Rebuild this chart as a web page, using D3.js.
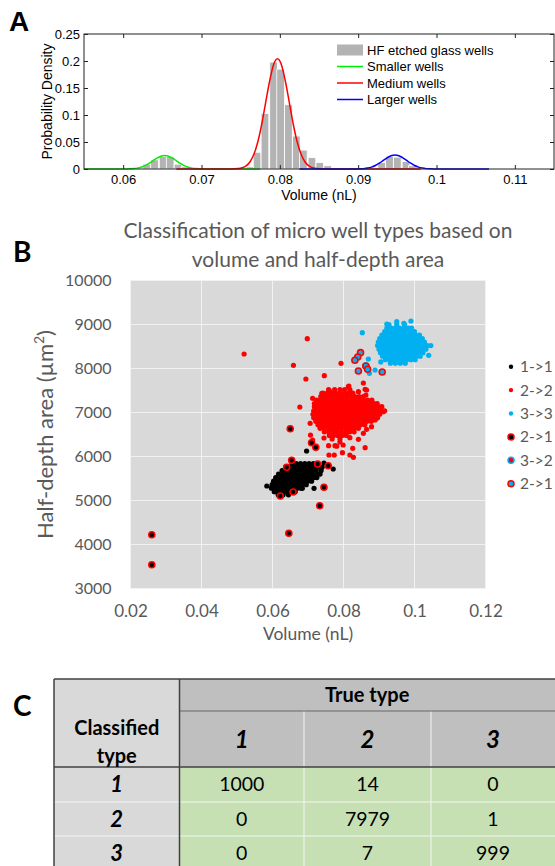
<!DOCTYPE html>
<html><head><meta charset="utf-8">
<script src="https://cdn.jsdelivr.net/npm/d3@7"></script>
<style>body{margin:0;background:#fff}svg{display:block}</style>
</head><body>
<svg id="c" width="555" height="866"></svg>
<script>
// ---------------- Panel A data ----------------
const xTicksA = [0.06, 0.07, 0.08, 0.09, 0.1, 0.11];
const yTicksA = [0, 0.05, 0.1, 0.15, 0.2, 0.25];
const binWidth = 0.00098;
const histCenters = [0.0630,0.0640,0.0651,0.0660,0.0670,0.0679,
  0.0762,0.0771,0.0781,0.0792,0.0801,0.0811,0.0821,0.0830,0.0841,0.0851,0.0861,
  0.0930,0.0940,0.0950,0.0961,0.0969];
const histDensity = [0.009,0.017,0.023,0.023,0.009,0.004,
  0.004,0.031,0.103,0.198,0.185,0.119,0.061,0.035,0.021,0.012,0.006,
  0.012,0.023,0.022,0.014,0.006];
const smallCurve = [[0.0550,0],[0.0600,0],[0.0603,0.0001],[0.0608,0.0003],[0.0613,0.0007],[0.0618,0.0016],[0.0623,0.0034],[0.0628,0.0062],[0.0633,0.0103],[0.0638,0.0152],[0.0643,0.0200],[0.0648,0.0237],[0.0653,0.0250],[0.0658,0.0237],[0.0663,0.0200],[0.0668,0.0152],[0.0673,0.0103],[0.0678,0.0062],[0.0683,0.0034],[0.0688,0.0016],[0.0693,0.0007],[0.0698,0.0003],[0.0703,0.0001],[0.0710,0],[0.0775,0]];
const mediumCurve = [[0.0668,0],[0.0737,0],[0.0747,0.0008],[0.0752,0.0023],[0.0757,0.0058],[0.0762,0.0134],[0.0767,0.0276],[0.0772,0.0509],[0.0777,0.0838],[0.0782,0.1240],[0.0787,0.1630],[0.0792,0.1930],[0.0797,0.2040],[0.0802,0.1930],[0.0807,0.1630],[0.0812,0.1240],[0.0817,0.0838],[0.0822,0.0509],[0.0827,0.0276],[0.0832,0.0134],[0.0837,0.0058],[0.0842,0.0023],[0.0847,0.0008],[0.0857,0],[0.0980,0]];
const largeCurve = [[0.0825,0],[0.0887,0],[0.0897,0.0001],[0.0902,0.0003],[0.0907,0.0007],[0.0912,0.0017],[0.0917,0.0035],[0.0922,0.0065],[0.0927,0.0107],[0.0932,0.0158],[0.0937,0.0208],[0.0942,0.0246],[0.0947,0.0260],[0.0952,0.0246],[0.0957,0.0208],[0.0962,0.0158],[0.0967,0.0107],[0.0972,0.0065],[0.0977,0.0035],[0.0982,0.0017],[0.0987,0.0007],[0.0992,0.0003],[0.0997,0.0001],[0.1007,0],[0.1067,0]];
const legendLabelsA = ["HF etched glass wells","Smaller wells","Medium wells","Larger wells"];

// ---------------- Panel B data ----------------
const xTicksB = [0.02,0.04,0.06,0.08,0.1,0.12];
const yTicksB = [3000,4000,5000,6000,7000,8000,9000,10000];
const legendLabelsB = ["1->1","2->2","3->3","2->1","3->2","2->1"];
// dense cores: rows of [area, [volumes...]]
const blackRows = [
 [5840,[0.0655,0.0667,0.0679,0.0691,0.0703,0.0715,0.0727]],
 [5760,[0.0637,0.0649,0.0661,0.0673,0.0685,0.0697,0.0709,0.0721,0.0733]],
 [5680,[0.0627,0.0639,0.0651,0.0663,0.0675,0.0687,0.0699,0.0711,0.0723,0.0737]],
 [5600,[0.0617,0.0629,0.0641,0.0653,0.0665,0.0677,0.0689,0.0701,0.0713,0.0725,0.0734]],
 [5520,[0.0609,0.0621,0.0633,0.0645,0.0657,0.0669,0.0681,0.0693,0.0705,0.0717,0.0725]],
 [5440,[0.0603,0.0615,0.0627,0.0639,0.0651,0.0663,0.0675,0.0687,0.0699,0.0710]],
 [5360,[0.0599,0.0611,0.0623,0.0635,0.0647,0.0659,0.0671,0.0683,0.0695]],
 [5280,[0.0597,0.0609,0.0621,0.0633,0.0645,0.0657,0.0669,0.0680]],
 [5200,[0.0605,0.0617,0.0629,0.0641,0.0653,0.0664]],
 [5130,[0.0616,0.0630,0.0645]]
];
const blackExtra = [[0.0696,6125],[0.0584,5329],[0.0717,5277],[0.0684,5277],[0.0771,5716],[0.0598,5300],[0.0607,5222],[0.0745,5850],[0.0740,5760]];
const redRows = [
 [7520,[0.0758,0.0775,0.0790,0.0803,0.0818]],
 [7440,[0.0742,0.0754,0.0766,0.0778,0.0790,0.0802,0.0814,0.0826]],
 [7360,[0.0736,0.0748,0.0760,0.0772,0.0784,0.0796,0.0808,0.0820,0.0832,0.0844,0.0856]],
 [7280,[0.0724,0.0736,0.0748,0.0760,0.0772,0.0784,0.0796,0.0808,0.0820,0.0832,0.0844,0.0856,0.0868,0.0880]],
 [7200,[0.0718,0.0730,0.0742,0.0754,0.0766,0.0778,0.0790,0.0802,0.0814,0.0826,0.0838,0.0850,0.0862,0.0874,0.0886,0.0895]],
 [7120,[0.0722,0.0734,0.0746,0.0758,0.0770,0.0782,0.0794,0.0806,0.0818,0.0830,0.0842,0.0854,0.0866,0.0878,0.0890,0.0902]],
 [7040,[0.0716,0.0728,0.0740,0.0752,0.0764,0.0776,0.0788,0.0800,0.0812,0.0824,0.0836,0.0848,0.0860,0.0872,0.0884,0.0896,0.0908,0.0916]],
 [6960,[0.0714,0.0722,0.0734,0.0746,0.0758,0.0770,0.0782,0.0794,0.0806,0.0818,0.0830,0.0842,0.0854,0.0866,0.0878,0.0890,0.0902]],
 [6880,[0.0716,0.0728,0.0740,0.0752,0.0764,0.0776,0.0788,0.0800,0.0812,0.0824,0.0836,0.0848,0.0860,0.0872,0.0884,0.0896]],
 [6800,[0.0722,0.0734,0.0746,0.0758,0.0770,0.0782,0.0794,0.0806,0.0818,0.0830,0.0842,0.0854,0.0866,0.0878]],
 [6720,[0.0728,0.0740,0.0752,0.0764,0.0776,0.0788,0.0800,0.0812,0.0824,0.0836,0.0848,0.0860]],
 [6640,[0.0734,0.0746,0.0758,0.0770,0.0782,0.0794,0.0806,0.0818,0.0830,0.0842]],
 [6560,[0.0746,0.0758,0.0770,0.0782,0.0794,0.0806,0.0818,0.0830]],
 [6480,[0.0760,0.0772,0.0784,0.0796,0.0808]],
 [6400,[0.0768,0.0790]]
];
const redExtra = [[0.0520,8330],[0.0698,8678],[0.0659,8073],[0.0694,7761],[0.0746,7836],[0.0793,8118],[0.0677,7125],
 [0.0861,7527],[0.0863,7398],[0.0814,7586],[0.0713,7322],[0.0718,7132],[0.0706,6754],[0.0707,6488],[0.0713,6374],
 [0.0758,6245],[0.0776,6245],[0.0799,6261],[0.0759,6034],[0.0774,6034],[0.0797,6087],[0.0818,6034],[0.0828,5981],
 [0.0826,6186],[0.0861,6200],[0.0865,6618],[0.0865,7511],[0.0842,7473],[0.0760,7496],[0.0739,7436],[0.0815,7602],
 [0.0875,7132],[0.0908,7132],[0.0912,7018],[0.0889,6829],[0.0879,6677],[0.0856,6527],[0.0856,7670],[0.0781,6234],
 [0.0818,6427],[0.0842,6390],[0.0790,6330],[0.0745,6420]];
const blueRows = [
 [9000,[0.0928,0.0950,0.0972]],
 [8920,[0.0922,0.0934,0.0946,0.0958,0.0970,0.0982,0.0992]],
 [8840,[0.0916,0.0928,0.0940,0.0952,0.0964,0.0976,0.0988,0.1000]],
 [8760,[0.0908,0.0920,0.0932,0.0944,0.0956,0.0968,0.0980,0.0992,0.1004,0.1014]],
 [8680,[0.0902,0.0914,0.0926,0.0938,0.0950,0.0962,0.0974,0.0986,0.0998,0.1010,0.1022]],
 [8600,[0.0898,0.0908,0.0920,0.0932,0.0944,0.0956,0.0968,0.0980,0.0992,0.1004,0.1016,0.1028]],
 [8520,[0.0896,0.0908,0.0920,0.0932,0.0944,0.0956,0.0968,0.0980,0.0992,0.1004,0.1016,0.1028,0.1036]],
 [8440,[0.0900,0.0912,0.0924,0.0936,0.0948,0.0960,0.0972,0.0984,0.0996,0.1008,0.1020,0.1032]],
 [8360,[0.0904,0.0916,0.0928,0.0940,0.0952,0.0964,0.0976,0.0988,0.1000,0.1012,0.1024]],
 [8280,[0.0910,0.0922,0.0934,0.0946,0.0958,0.0970,0.0982,0.0994,0.1006,0.1016]],
 [8200,[0.0918,0.0930,0.0942,0.0954,0.0966,0.0978,0.0990,0.1002]],
 [8120,[0.0932,0.0946,0.0960,0.0974]]
];
const blueExtra = [[0.0853,8814],[0.0870,8216],[0.0873,7890],[0.0889,7966],[0.0922,9011],[0.0950,9064],[0.0970,9027],[0.1046,8520],[0.0990,9080],[0.1040,8300],[0.0905,8150]];
const misBlackRed = [[0.0650,6632],[0.0710,6313],[0.0722,6208],[0.0654,5913],[0.0640,5754],[0.0727,5829],[0.0757,5791],[0.0745,5300],[0.0658,5193],[0.0622,5102],[0.0733,4882],[0.0646,4254],[0.0260,4222],[0.0260,3540]];
const misRedBlue = [[0.0863,8057]];
const misBlueRed = [[0.0848,8360],[0.0840,8261],[0.0832,8186],[0.0863,8057],[0.0868,7982],[0.0842,7943],[0.0909,7920]];

// ---------------- Panel C data ----------------
const trueTypes = ["1","2","3"];
const classifiedTypes = ["1","2","3"];
const confusion = [[1000,14,0],[0,7979,1],[0,7,999]];

// ================= drawing =================
const svg = d3.select("#c");
svg.append("rect").attr("width",555).attr("height",866).attr("fill","#fff");

// ---------- Panel A ----------
const A = svg.append("g").attr("font-family","'Liberation Sans', Arial, sans-serif");
const xA = d3.scaleLinear().domain([0.055,0.115]).range([84,554]);
const yA = d3.scaleLinear().domain([0,0.25]).range([169,34]);
A.append("text").attr("x",9).attr("y",31).attr("font-size",28).attr("font-weight","bold").text("A");

A.append("g").selectAll("rect").data(histCenters).join("rect")
  .attr("x",(d)=>xA(d-binWidth/2)).attr("width",(d)=>xA(d+binWidth/2)-xA(d-binWidth/2))
  .attr("y",(d,i)=>yA(histDensity[i])).attr("height",(d,i)=>yA(0)-yA(histDensity[i]))
  .attr("fill","#b3b3b3").attr("stroke","#fff").attr("stroke-width",0.8);

const lineA = d3.line().x(d=>xA(d[0])).y(d=>yA(d[1])).curve(d3.curveMonotoneX);
const curvesA = [[smallCurve,"#00ee00"],[mediumCurve,"#ff0000"],[largeCurve,"#0000ff"]];
curvesA.forEach(([c,col])=>{
  A.append("path").attr("d",lineA(c)).attr("fill","none").attr("stroke",col).attr("stroke-width",1.5);
});

const axB = A.append("g").attr("transform",`translate(0,${yA(0)})`)
  .call(d3.axisBottom(xA).tickValues(xTicksA).tickSizeInner(-4).tickSizeOuter(0).tickPadding(6).tickFormat(d3.format("")));
const axT = A.append("g").attr("transform",`translate(0,${yA(0.25)})`)
  .call(d3.axisTop(xA).tickValues(xTicksA).tickSizeInner(-4).tickSizeOuter(0).tickFormat(""));
const axL = A.append("g").attr("transform",`translate(${xA(0.055)},0)`)
  .call(d3.axisLeft(yA).tickValues(yTicksA).tickSizeInner(-4).tickSizeOuter(0).tickPadding(4).tickFormat(d3.format("")));
const axR = A.append("g").attr("transform",`translate(${xA(0.115)},0)`)
  .call(d3.axisRight(yA).tickValues(yTicksA).tickSizeInner(-4).tickSizeOuter(0).tickFormat(""));
[axB,axT,axL,axR].forEach(g=>{
  g.select(".domain").remove();
  g.selectAll("text").attr("font-size",13).attr("fill","#000").attr("font-family","'Liberation Sans', Arial, sans-serif");
  g.selectAll("line").attr("stroke","#222");
});
A.append("rect").attr("x",xA(0.055)).attr("y",yA(0.25)).attr("width",xA(0.115)-xA(0.055)).attr("height",yA(0)-yA(0.25))
  .attr("fill","none").attr("stroke","#222").attr("stroke-width",1);
A.append("text").attr("x",(xA(0.055)+xA(0.115))/2).attr("y",200).attr("text-anchor","middle").attr("font-size",14).text("Volume (nL)");
A.append("text").attr("transform",`translate(52,${(yA(0)+yA(0.25))/2}) rotate(-90)`).attr("text-anchor","middle").attr("font-size",14).text("Probability Density");

// legend A
const legA = A.append("g").attr("font-size",13);
const legColors = ["#b3b3b3","#00ee00","#ff0000","#0000ff"];
legendLabelsA.forEach((t,i)=>{
  const cy = 50 + i*16.5;
  if(i===0) legA.append("rect").attr("x",337).attr("y",cy-5.5).attr("width",26).attr("height",11).attr("fill",legColors[0]);
  else legA.append("line").attr("x1",337).attr("x2",363).attr("y1",cy).attr("y2",cy).attr("stroke",legColors[i]).attr("stroke-width",1.5);
  legA.append("text").attr("x",367).attr("y",cy+4.5).text(t);
});

// ---------- Panel B ----------
const B = svg.append("g").attr("font-family","Lato, 'Open Sans', sans-serif");
const xB = d3.scaleLinear().domain([0.02,0.12]).range([130.5,485.5]);
const yB = d3.scaleLinear().domain([3000,10000]).range([588.5,280.5]);
B.append("text").attr("x",13).attr("y",262).attr("font-size",28).attr("font-weight","bold").attr("fill","#000").text("B");
const title = B.append("text").attr("text-anchor","middle").attr("font-size",21).attr("fill","#595959");
title.append("tspan").attr("x",318).attr("y",238).text("Classification of micro well types based on");
title.append("tspan").attr("x",318).attr("y",267).text("volume and half-depth area");

B.append("rect").attr("x",xB(0.02)).attr("y",yB(10000)).attr("width",xB(0.12)-xB(0.02)).attr("height",yB(3000)-yB(10000)).attr("fill","#d9d9d9");
B.append("g").selectAll("line.gx").data(xTicksB).join("line")
  .attr("x1",d=>xB(d)).attr("x2",d=>xB(d)).attr("y1",yB(10000)).attr("y2",yB(3000)).attr("stroke","#f2f2f2").attr("stroke-width",1);
B.append("g").selectAll("line.gy").data(yTicksB).join("line")
  .attr("y1",d=>yB(d)).attr("y2",d=>yB(d)).attr("x1",xB(0.02)).attr("x2",xB(0.12)).attr("stroke","#f2f2f2").attr("stroke-width",1);

const bx = B.append("g").attr("transform",`translate(0,${yB(3000)})`)
  .call(d3.axisBottom(xB).tickValues(xTicksB).tickSize(0).tickPadding(16).tickFormat(d3.format("")));
const by = B.append("g").attr("transform",`translate(${xB(0.02)-19},0)`)
  .call(d3.axisLeft(yB).tickValues(yTicksB).tickSize(0).tickPadding(0).tickFormat(d3.format("d")));
bx.select(".domain").remove(); by.select(".domain").remove();
bx.selectAll("text").attr("font-size",17).attr("fill","#595959").attr("font-family","Lato, sans-serif");
by.selectAll("text").attr("font-size",16).attr("fill","#595959").attr("font-family","Lato, sans-serif");
B.append("text").attr("x",(xB(0.02)+xB(0.12))/2).attr("y",640).attr("text-anchor","middle").attr("font-size",17.5).attr("fill","#595959").text("Volume (nL)");
const yl = B.append("text").attr("transform",`translate(53,${(yB(3000)+yB(10000))/2}) rotate(-90)`).attr("text-anchor","middle").attr("font-size",22).attr("fill","#595959");
yl.append("tspan").text("Half-depth area (µm");
yl.append("tspan").attr("font-size",14).attr("dy",-9).text("2");
yl.append("tspan").attr("dy",9).text(")");

const flat = rows => rows.flatMap(([a,vs])=>vs.map(v=>[v,a]));
const pts = B.append("g");
function dots(data, fill, r, stroke, sw){
  pts.append("g").selectAll("circle").data(data).join("circle")
    .attr("cx",d=>xB(d[0])).attr("cy",d=>yB(d[1])).attr("r",r)
    .attr("fill",fill).attr("stroke",stroke||"none").attr("stroke-width",sw||0);
}
dots(flat(blackRows).concat(blackExtra),"#000",2.6);
dots(flat(redRows).concat(redExtra),"#ff0000",2.6);
dots(flat(blueRows).concat(blueExtra),"#00b0f0",2.6);
dots(misBlackRed,"#000",3,"#ff0000",1.6);
dots(misRedBlue,"#ff0000",3,"#00b0f0",1.6);
dots(misBlueRed,"#00b0f0",3,"#ff0000",1.6);

// legend B
const legB = B.append("g");
const legStyles = [["#000",2.2,null],["#ff0000",2.2,null],["#00b0f0",2.2,null],["#000",3,"#ff0000"],["#ff0000",3,"#00b0f0"],["#00b0f0",3,"#ff0000"]];
legendLabelsB.forEach((t,i)=>{
  const cy = 366.7 + i*23.4;
  const [f,r,s] = legStyles[i];
  legB.append("circle").attr("cx",511).attr("cy",cy).attr("r",r).attr("fill",f).attr("stroke",s||"none").attr("stroke-width",s?1.5:0);
  legB.append("text").attr("x",520).attr("y",cy+5.5).attr("font-size",15.5).attr("fill","#595959").text(t);
});

// ---------- Panel C ----------
const C = svg.append("g").attr("font-family","Lato, 'Open Sans', sans-serif");
C.append("text").attr("x",13).attr("y",716).attr("font-size",28).attr("font-weight","bold").text("C");
const colX = [54,179.5,304,431,555];
const rowY = [679,711,767,802,836,870];
C.append("rect").attr("x",colX[0]).attr("y",rowY[0]).attr("width",colX[1]-colX[0]).attr("height",rowY[2]-rowY[0]).attr("fill","#d9d9d9");
C.append("rect").attr("x",colX[1]).attr("y",rowY[0]).attr("width",colX[4]-colX[1]).attr("height",rowY[1]-rowY[0]).attr("fill","#bfbfbf");
trueTypes.forEach((t,j)=>{
  C.append("rect").attr("x",colX[j+1]).attr("y",rowY[1]).attr("width",colX[j+2]-colX[j+1]).attr("height",rowY[2]-rowY[1]).attr("fill","#bfbfbf");
  C.append("text").attr("x",(colX[j+1]+colX[j+2])/2).attr("y",(rowY[1]+rowY[2])/2+8.5).attr("text-anchor","middle")
    .attr("font-size",24).attr("font-weight","bold").attr("font-style","italic").text(t);
});
classifiedTypes.forEach((t,i)=>{
  const y0 = rowY[i+2], y1 = rowY[i+3];
  C.append("rect").attr("x",colX[0]).attr("y",y0).attr("width",colX[1]-colX[0]).attr("height",y1-y0).attr("fill","#d9d9d9");
  C.append("text").attr("x",(colX[0]+colX[1])/2).attr("y",(y0+y1)/2+7.5).attr("text-anchor","middle")
    .attr("font-size",22).attr("font-weight","bold").attr("font-style","italic").text(t);
  confusion[i].forEach((v,j)=>{
    C.append("rect").attr("x",colX[j+1]).attr("y",y0).attr("width",colX[j+2]-colX[j+1]).attr("height",y1-y0).attr("fill","#c6e0b4");
    C.append("text").attr("x",(colX[j+1]+colX[j+2])/2).attr("y",(y0+y1)/2+6.5).attr("text-anchor","middle").attr("font-size",19.5).text(v);
  });
});
// light inner lines
[colX[2],colX[3]].forEach(x=>C.append("line").attr("x1",x).attr("x2",x).attr("y1",rowY[1]).attr("y2",rowY[5]).attr("stroke","#f4f4f4").attr("stroke-width",1));
[rowY[3],rowY[4]].forEach(y=>C.append("line").attr("x1",colX[0]).attr("x2",colX[4]).attr("y1",y).attr("y2",y).attr("stroke","#f4f4f4").attr("stroke-width",1));
C.append("line").attr("x1",colX[1]).attr("x2",colX[4]).attr("y1",rowY[1]).attr("y2",rowY[1]).attr("stroke","#666").attr("stroke-width",1);
C.append("line").attr("x1",colX[0]).attr("x2",colX[4]).attr("y1",rowY[2]).attr("y2",rowY[2]).attr("stroke","#404040").attr("stroke-width",1.5);
C.append("line").attr("x1",colX[1]).attr("x2",colX[1]).attr("y1",rowY[0]).attr("y2",rowY[5]).attr("stroke","#404040").attr("stroke-width",1.5);
C.append("line").attr("x1",colX[0]).attr("x2",colX[4]).attr("y1",rowY[0]).attr("y2",rowY[0]).attr("stroke","#404040").attr("stroke-width",1.5);
C.append("line").attr("x1",colX[0]).attr("x2",colX[0]).attr("y1",rowY[0]).attr("y2",rowY[5]).attr("stroke","#404040").attr("stroke-width",1.5);
C.append("text").attr("x",(colX[1]+colX[4])/2).attr("y",(rowY[0]+rowY[1])/2+7).attr("text-anchor","middle").attr("font-size",20).attr("font-weight","bold").text("True type");
C.append("text").attr("x",(colX[0]+colX[1])/2).attr("y",735).attr("text-anchor","middle").attr("font-size",20).attr("font-weight","bold").text("Classified");
C.append("text").attr("x",(colX[0]+colX[1])/2).attr("y",763).attr("text-anchor","middle").attr("font-size",20).attr("font-weight","bold").text("type");
</script>
</body></html>
